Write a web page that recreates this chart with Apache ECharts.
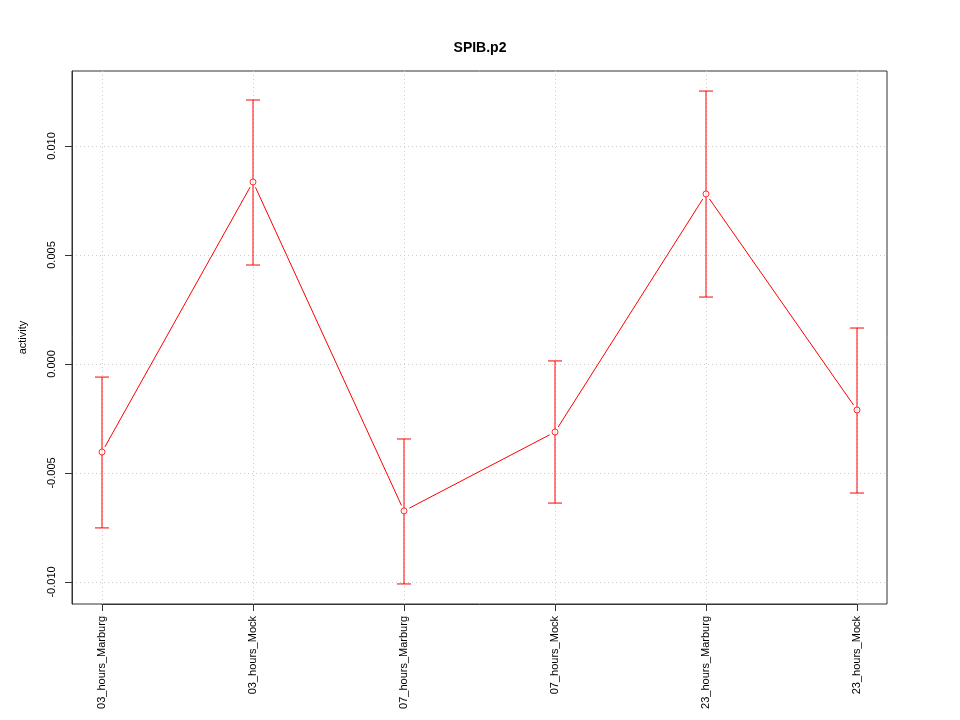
<!DOCTYPE html>
<html>
<head>
<meta charset="utf-8">
<script src="https://cdn.jsdelivr.net/npm/echarts@6/dist/echarts.min.js"></script>
<style>html,body{margin:0;padding:0;background:#fff;}#chart{width:960px;height:720px;}</style>
</head>
<body>
<div id="chart"></div>
<script>
const title = 'SPIB.p2';
const yName = 'activity';
const categories = ['03_hours_Marburg', '03_hours_Mock', '07_hours_Marburg', '07_hours_Mock', '23_hours_Marburg', '23_hours_Mock'];
const means = [-0.00404, 0.00835, -0.00674, -0.00312, 0.00780, -0.00211];
const lower = [-0.00752, 0.00454, -0.01009, -0.00638, 0.00307, -0.00592];
const upper = [-0.00060, 0.01211, -0.00344, 0.00014, 0.01252, 0.00165];
const yTicks = [-0.010, -0.005, 0.000, 0.005, 0.010];
const yMin = -0.01101;
const yMax = 0.01344;

const FONT = "'Liberation Sans', Arial, Helvetica, sans-serif";
const RED = '#ff0000';

const errData = categories.map((c, i) => [i, lower[i], upper[i]]);
const segData = [];
for (let i = 0; i < means.length - 1; i++) segData.push([i, means[i], i + 1, means[i + 1]]);

const chart = echarts.init(document.getElementById('chart'), null, {renderer: 'canvas'});
chart.setOption({
  animation: false,
  backgroundColor: '#ffffff',
  title: {
    text: title, left: 'center', top: 36,
    textStyle: {fontFamily: FONT, fontSize: 14, fontWeight: 'bold', color: '#000'}
  },
  grid: [
    {left: 72, top: 71, width: 815, height: 533, show: true, borderColor: '#333', borderWidth: 1, backgroundColor: 'transparent'},
    {left: 102, top: 71, width: 755, height: 533, show: false}
  ],
  xAxis: [
    {gridIndex: 0, type: 'value', min: 0, max: 1, show: false},
    {
      gridIndex: 1, type: 'category', data: categories, boundaryGap: false, position: 'bottom',
      axisLine: {show: true, onZero: false, lineStyle: {color: '#333', width: 1}},
      axisTick: {show: true, length: 7, alignWithLabel: true, lineStyle: {color: '#333'}},
      axisLabel: {rotate: 90, margin: 12, fontFamily: FONT, fontSize: 11, color: '#000', interval: 0},
      splitLine: {show: true, lineStyle: {color: '#cccccc', type: [1, 3], width: 1}}
    }
  ],
  yAxis: [
    {
      gridIndex: 0, type: 'value', min: yMin, max: yMax,
      name: yName, nameLocation: 'middle', nameGap: 44, nameRotate: 90,
      nameTextStyle: {fontFamily: FONT, fontSize: 11, color: '#000'},
      axisLine: {show: true, onZero: false, lineStyle: {color: '#333', width: 1}},
      axisTick: {show: true, length: 7, customValues: yTicks, lineStyle: {color: '#333'}},
      axisLabel: {
        rotate: 90, margin: 15, customValues: yTicks,
        fontFamily: FONT, fontSize: 11, color: '#000',
        formatter: v => v.toFixed(3)
      },
      splitLine: {show: true, lineStyle: {color: '#cccccc', type: [1, 3], width: 1}}
    },
    {gridIndex: 1, type: 'value', min: yMin, max: yMax, show: false}
  ],
  series: [
    {
      type: 'custom', xAxisIndex: 1, yAxisIndex: 1, data: errData, z: 3,
      renderItem: function (params, api) {
        const lo = api.coord([api.value(0), api.value(1)]);
        const hi = api.coord([api.value(0), api.value(2)]);
        const w = 7;
        const st = {stroke: RED, lineWidth: 1};
        return {
          type: 'group', children: [
            {type: 'line', shape: {x1: lo[0], y1: lo[1], x2: hi[0], y2: hi[1]}, style: st},
            {type: 'line', shape: {x1: lo[0] - w, y1: lo[1], x2: lo[0] + w, y2: lo[1]}, style: st},
            {type: 'line', shape: {x1: hi[0] - w, y1: hi[1], x2: hi[0] + w, y2: hi[1]}, style: st}
          ]
        };
      }
    },
    {
      type: 'custom', xAxisIndex: 1, yAxisIndex: 1, data: segData, z: 3,
      renderItem: function (params, api) {
        const a = api.coord([api.value(0), api.value(1)]);
        const b = api.coord([api.value(2), api.value(3)]);
        const dx = b[0] - a[0], dy = b[1] - a[1];
        const len = Math.sqrt(dx * dx + dy * dy);
        const g = 6;
        const ux = dx / len, uy = dy / len;
        return {
          type: 'line',
          shape: {x1: a[0] + ux * g, y1: a[1] + uy * g, x2: b[0] - ux * g, y2: b[1] - uy * g},
          style: {stroke: RED, lineWidth: 1}
        };
      }
    },
    {
      type: 'scatter', xAxisIndex: 1, yAxisIndex: 1, data: means, z: 4,
      symbol: 'circle', symbolSize: 6,
      itemStyle: {color: '#ffffff', borderColor: RED, borderWidth: 1}
    }
  ]
});
</script>
</body>
</html>
